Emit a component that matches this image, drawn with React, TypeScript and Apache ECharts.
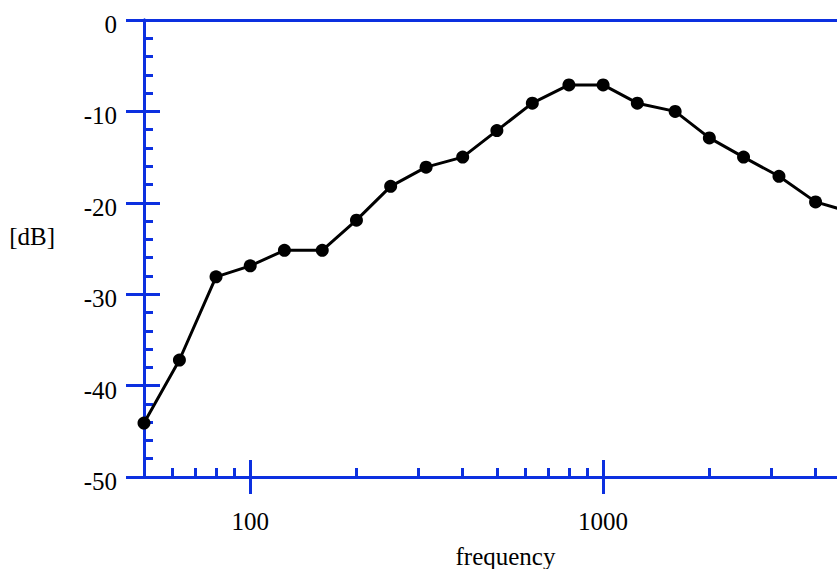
import React, { useEffect, useRef } from "react";
import * as echarts from "echarts";

const frequencies = [50, 63, 80, 100, 125, 160, 200, 250, 315, 400, 500, 630, 800, 1000, 1250, 1600, 2000, 2500, 3150, 4000, 5000];
const levels = [-44.1, -37.2, -28.1, -26.9, -25.2, -25.2, -21.9, -18.2, -16.1, -15.0, -12.1, -9.1, -7.1, -7.1, -9.1, -10.0, -12.9, -15.0, -17.1, -19.9, -21.0];
const xMajorTicks = [100, 1000];
const xMinorTicks = [60, 70, 80, 90, 200, 300, 400, 500, 600, 700, 800, 900, 2000, 3000, 4000];
const xMin = 50;
const xMax = 4600;
const yMin = -50;
const yMax = 0;
const yInterval = 10;

const AXIS_BLUE = "#0c30e0";
const FONT = "Liberation Serif";

export default function App() {
  const ref = useRef<HTMLDivElement>(null);
  useEffect(() => {
    if (!ref.current) return;
    const chart = echarts.init(ref.current, undefined, { renderer: "svg" });
    const line = { show: true, onZero: false, lineStyle: { color: AXIS_BLUE, width: 3 } };
    const tickStyle = { color: AXIS_BLUE, width: 3 };
    const gridBox = {
      left: 144,
      right: 0,
      top: 20,
      bottom: 92,
      containLabel: false,
      outerBoundsMode: "none",
    };
    const baseX = (g: number) => ({
      type: "log" as const,
      logBase: 10,
      min: xMin,
      max: xMax,
      splitLine: { show: false },
      gridIndex: g,
    });
    const baseY = (g: number) => ({
      type: "value" as const,
      min: yMin,
      max: yMax,
      interval: yInterval,
      splitLine: { show: false },
      gridIndex: g,
    });
    chart.setOption({
      animation: false,
      backgroundColor: "#ffffff",
      grid: [gridBox, gridBox, gridBox, gridBox],
      xAxis: [
        {
          ...baseX(0),
          position: "bottom",
          axisLine: line,
          axisTick: { show: true, inside: true, length: 17, customValues: xMajorTicks, lineStyle: tickStyle },
          axisLabel: {
            show: true,
            customValues: xMajorTicks,
            formatter: (v: number) => String(Math.round(v)),
            margin: 32,
            color: "#000",
            fontFamily: FONT,
            fontSize: 25,
          },
          name: "frequency",
          nameLocation: "middle",
          nameGap: 67,
          nameTextStyle: { color: "#000", fontFamily: FONT, fontSize: 25, padding: [0, 0, 0, 30] },
        },
        {
          ...baseX(1),
          position: "bottom",
          axisLine: line,
          axisTick: { show: true, inside: false, length: 17, customValues: xMajorTicks, lineStyle: tickStyle },
          axisLabel: { show: false },
        },
        {
          ...baseX(2),
          position: "bottom",
          axisLine: line,
          axisTick: { show: true, inside: true, length: 9, customValues: xMinorTicks, lineStyle: tickStyle },
          axisLabel: { show: false },
        },
        {
          ...baseX(3),
          position: "top",
          axisLine: line,
          axisTick: { show: false },
          axisLabel: { show: false },
        },
      ],
      yAxis: [
        {
          ...baseY(0),
          position: "left",
          axisLine: line,
          axisTick: { show: true, inside: true, length: 16, lineStyle: tickStyle },
          minorTick: { show: true, splitNumber: 5, length: 9, lineStyle: tickStyle },
          axisLabel: {
            show: true,
            margin: 27,
            formatter: "{v|{value}}",
            rich: {
              v: { color: "#000", fontFamily: FONT, fontSize: 25, padding: [9, 0, 0, 0] },
            },
            color: "#000",
            fontFamily: FONT,
            fontSize: 25,
          },
          name: "[dB]",
          nameLocation: "middle",
          nameRotate: 0,
          nameGap: 89,
          nameTextStyle: { color: "#000", fontFamily: FONT, fontSize: 25, verticalAlign: "bottom" },
        },
        {
          ...baseY(1),
          position: "left",
          axisLine: line,
          axisTick: { show: true, inside: false, length: 18, lineStyle: tickStyle },
          axisLabel: { show: false },
        },
        { ...baseY(2), show: false },
        { ...baseY(3), show: false },
      ],
      series: [
        {
          type: "line",
          xAxisIndex: 0,
          yAxisIndex: 0,
          data: frequencies.map((f, i) => [f, levels[i]]),
          symbol: "circle",
          symbolSize: 13,
          clip: true,
          itemStyle: { color: "#000" },
          lineStyle: { color: "#000", width: 3 },
          z: 10,
        },
      ],
    });
    return () => chart.dispose();
  }, []);
  return (
    <div
      ref={ref}
      style={{ position: "fixed", left: 0, top: 0, width: 837, height: 569, background: "#fff" }}
    />
  );
}
